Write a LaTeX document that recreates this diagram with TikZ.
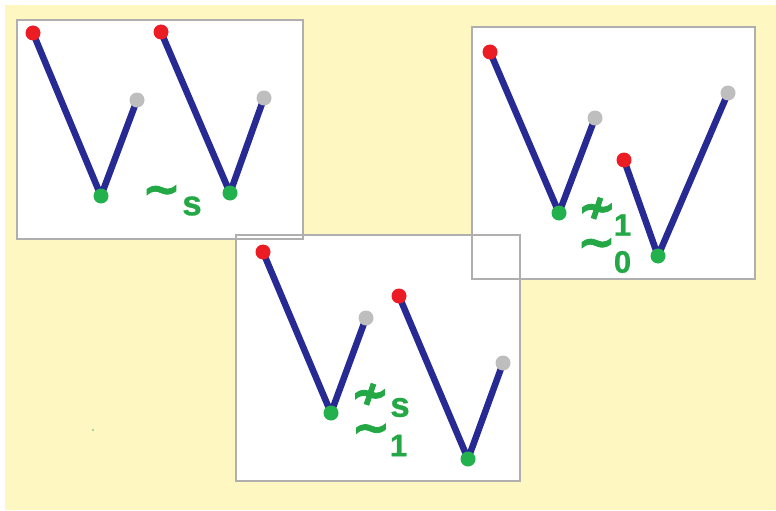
\documentclass[tikz,border=0pt]{standalone}
\usepackage{fontspec}
\setmainfont{Liberation Sans}
\newfontfamily\dvfont[BoldFeatures={FakeBold=1.8}]{DejaVu Sans}
\newfontfamily\digfont[BoldFeatures={FakeBold=0.8}]{Liberation Sans}
\definecolor{bgyellow}{RGB}{255,247,193}
\definecolor{boxgray}{RGB}{175,175,175}
\definecolor{vblue}{RGB}{40,42,148}
\definecolor{dotred}{RGB}{235,28,36}
\definecolor{dotgreen}{RGB}{34,177,76}
\definecolor{dotgray}{RGB}{190,190,190}
\definecolor{txtgreen}{RGB}{36,168,70}
\tikzset{
  panel/.style={draw=boxgray, line width=1.5pt},
  vline/.style={draw=vblue, line width=6.5pt, line cap=round, line join=round},
  dot/.style={circle, inner sep=0pt, minimum size=15pt},
  reddot/.style={dot, fill=dotred},
  greendot/.style={dot, fill=dotgreen},
  graydot/.style={dot, fill=dotgray},
  rel/.style={text=txtgreen, inner sep=0pt, anchor=center, font=\dvfont\bfseries\fontsize{46}{46}\selectfont},
  idx/.style={text=txtgreen, inner sep=0pt, anchor=center, font=\digfont\bfseries\fontsize{31}{32}\selectfont},
  sidx/.style={text=txtgreen, inner sep=0pt, anchor=center, font=\digfont\bfseries\fontsize{35}{36}\selectfont},
}
\begin{document}
\begin{tikzpicture}[x=1pt, y=-1pt]
\useasboundingbox (0,0) rectangle (776,511);
\fill[white] (0,0) rectangle (776,511);
\fill[bgyellow] (5,5) rectangle (776,510);
% panel fills
\fill[white] (17,20) rectangle (303,239);
\fill[white] (472,27) rectangle (755,279);
\fill[white] (236,235) rectangle (520,481);
% panel borders
\draw[panel] (17,20) rectangle (303,239);
\draw[panel] (472,27) rectangle (755,279);
\draw[panel] (236,235) rectangle (520,481);
% stray speck
\fill[dotgreen!60] (93,430) circle (1.2);
% coordinates of V shapes
\coordinate (r1) at (33,33);   \coordinate (g1) at (101,196); \coordinate (y1) at (137,100);
\coordinate (r2) at (161,32);  \coordinate (g2) at (230,193); \coordinate (y2) at (264,98);
\coordinate (r3) at (490,52);  \coordinate (g3) at (559,213); \coordinate (y3) at (595,118);
\coordinate (r4) at (624,160); \coordinate (g4) at (658,256); \coordinate (y4) at (728,93);
\coordinate (r5) at (263,252); \coordinate (g5) at (331,413); \coordinate (y5) at (366,318);
\coordinate (r6) at (399,296); \coordinate (g6) at (468,459); \coordinate (y6) at (503,363);
% lines
\foreach \i in {1,...,6} {
  \draw[vline] (r\i) -- (g\i) -- (y\i);
}
% dots
\foreach \i in {1,...,6} {
  \node[reddot] (rd\i) at (r\i) {};
  \node[greendot] (gd\i) at (g\i) {};
  \node[graydot] (yd\i) at (y\i) {};
}
% labels
\node[rel] (t1) at (161.5,195) {∼};
\node[sidx] (s1) at (192,206) {s};
\node[rel] (t2) at (597,210) {≁};
\node[idx] (n2) at (622.5,225) {1};
\node[rel] (t3) at (596.5,248) {∼};
\node[idx] (n3) at (622.5,262) {0};
\node[rel] (t4) at (370,396) {≁};
\node[sidx] (s4) at (400,407.5) {s};
\node[rel] (t5) at (371,433.5) {∼};
\node[idx] (n5) at (398.5,445.5) {1};
\end{tikzpicture}
\end{document}
